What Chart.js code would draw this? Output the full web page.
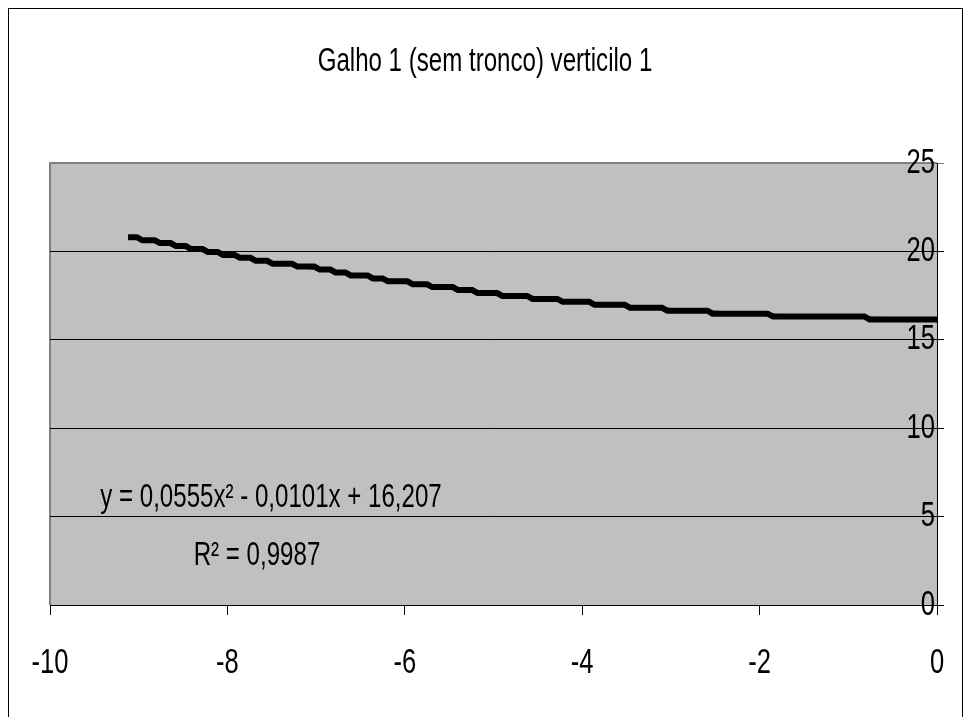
<!DOCTYPE html>
<html>
<head>
<meta charset="utf-8">
<script src="https://cdn.jsdelivr.net/npm/chart.js@4.4.1/dist/chart.umd.min.js"></script>
<style>
  html, body { margin: 0; padding: 0; background: #fff; }
  #wrap { position: relative; width: 969px; height: 717px; }
</style>
</head>
<body>
<div id="wrap"><canvas id="chart" width="969" height="717"></canvas></div>
<script>
const xValues = [-9.12, -9.02, -8.96, -8.82, -8.76, -8.64, -8.58, -8.47, -8.41, -8.28,
  -8.22, -8.11, -8.05, -7.92, -7.86, -7.74, -7.68, -7.55, -7.49, -7.27,
  -7.21, -7.02, -6.96, -6.84, -6.78, -6.67, -6.61, -6.42, -6.36, -6.25,
  -6.19, -5.97, -5.91, -5.75, -5.69, -5.46, -5.40, -5.24, -5.18, -4.96,
  -4.90, -4.62, -4.56, -4.28, -4.22, -3.92, -3.86, -3.52, -3.46, -3.10,
  -3.04, -2.59, -2.53, -1.91, -1.85, -0.82, -0.76, 0];
const yValues = [20.80, 20.80, 20.63, 20.63, 20.47, 20.47, 20.30, 20.30, 20.13, 20.13,
  19.97, 19.97, 19.80, 19.80, 19.64, 19.64, 19.47, 19.47, 19.30, 19.30,
  19.14, 19.14, 18.97, 18.97, 18.81, 18.81, 18.64, 18.64, 18.47, 18.47,
  18.31, 18.31, 18.14, 18.14, 17.98, 17.98, 17.81, 17.81, 17.64, 17.64,
  17.48, 17.48, 17.31, 17.31, 17.15, 17.15, 16.98, 16.98, 16.81, 16.81,
  16.65, 16.65, 16.48, 16.48, 16.32, 16.32, 16.15, 16.15];

// polynomial trend line (blue, mostly hidden under the data)
const trendX = [-9.1, -8, -7, -6, -5, -4, -3, -2, -1, 0];
const trendY = [20.85, 19.85, 19.0, 18.27, 17.65, 17.13, 16.74, 16.45, 16.27, 16.2];

const xTicks = [-10, -8, -6, -4, -2, 0];
const yTicks = [0, 5, 10, 15, 20, 25];

const chartTitle = 'Galho 1 (sem tronco) verticilo 1';
const eqText = 'y = 0,0555x² - 0,0101x + 16,207';
const r2Text = 'R² = 0,9987';

const FONT = "'Liberation Sans', Arial, sans-serif";
const SX = 0.73; // the original text is a narrow face, squeeze it horizontally

function narrowText(ctx, text, x, y, size, align) {
  ctx.save();
  ctx.font = size + 'px ' + FONT;
  ctx.fillStyle = '#000';
  ctx.textAlign = align;
  ctx.textBaseline = 'middle';
  ctx.translate(x, y);
  ctx.scale(SX, 1);
  ctx.fillText(text, 0, 0);
  ctx.restore();
}

const plotBg = {
  id: 'plotBg',
  beforeDraw(chart) {
    const { ctx, chartArea: a } = chart;
    ctx.save();
    ctx.fillStyle = '#fff';
    ctx.fillRect(0, 0, chart.width, chart.height);
    // outer chart frame
    ctx.strokeStyle = '#000';
    ctx.lineWidth = 1;
    ctx.strokeRect(8.5, 8.5, 954, 720);
    ctx.fillStyle = '#C0C0C0';
    ctx.fillRect(a.left, a.top, a.right - a.left, a.bottom - a.top);
    ctx.strokeStyle = '#808080';
    ctx.lineWidth = 2;
    ctx.beginPath();
    ctx.moveTo(a.left, a.bottom);
    ctx.lineTo(a.left, a.top);
    ctx.lineTo(a.right, a.top);
    ctx.stroke();
    ctx.restore();
  }
};

const texts = {
  id: 'texts',
  afterDraw(chart) {
    const { ctx, scales } = chart;
    narrowText(ctx, chartTitle, 485, 62, 33, 'center');
    scales.x.ticks.forEach(t => {
      narrowText(ctx, String(t.value), scales.x.getPixelForValue(t.value), 663, 35, 'center');
    });
    scales.y.ticks.forEach(t => {
      narrowText(ctx, String(t.value), scales.y.left - 2, scales.y.getPixelForValue(t.value), 35, 'right');
    });
    narrowText(ctx, eqText, 271, 498, 33, 'center');
    narrowText(ctx, r2Text, 257, 556, 33, 'center');
  }
};

new Chart(document.getElementById('chart'), {
  type: 'line',
  data: {
    datasets: [
      {
        label: 'dados',
        data: xValues.map((x, i) => ({ x, y: yValues[i] })),
        borderColor: '#000',
        borderWidth: 6,
        pointRadius: 0,
        tension: 0,
        order: 0
      },
      {
        label: 'tendência',
        data: trendX.map((x, i) => ({ x, y: trendY[i] })),
        borderColor: '#000080',
        borderWidth: 2,
        pointRadius: 0,
        cubicInterpolationMode: 'monotone',
        order: 1
      }
    ]
  },
  options: {
    responsive: false,
    animation: false,
    devicePixelRatio: 1,
    layout: { padding: { left: 50, right: 25, top: 163, bottom: 102 } },
    plugins: {
      legend: { display: false },
      tooltip: { enabled: false },
      title: { display: false }
    },
    scales: {
      x: {
        type: 'linear',
        min: -10,
        max: 0,
        afterBuildTicks: s => { s.ticks = xTicks.map(v => ({ value: v })); },
        grid: { drawOnChartArea: false, drawTicks: true, tickLength: 10, color: '#000' },
        border: { color: '#000', width: 1 },
        ticks: { display: false }
      },
      y: {
        type: 'linear',
        position: 'right',
        min: 0,
        max: 25,
        afterBuildTicks: s => { s.ticks = yTicks.map(v => ({ value: v })); },
        grid: {
          color: ctx => (ctx.tick && ctx.tick.value === 25 ? '#808080' : '#000'),
          lineWidth: 1,
          tickLength: 7
        },
        border: { color: '#000', width: 1 },
        ticks: { display: false }
      }
    }
  },
  plugins: [plotBg, texts]
});
</script>
</body>
</html>
